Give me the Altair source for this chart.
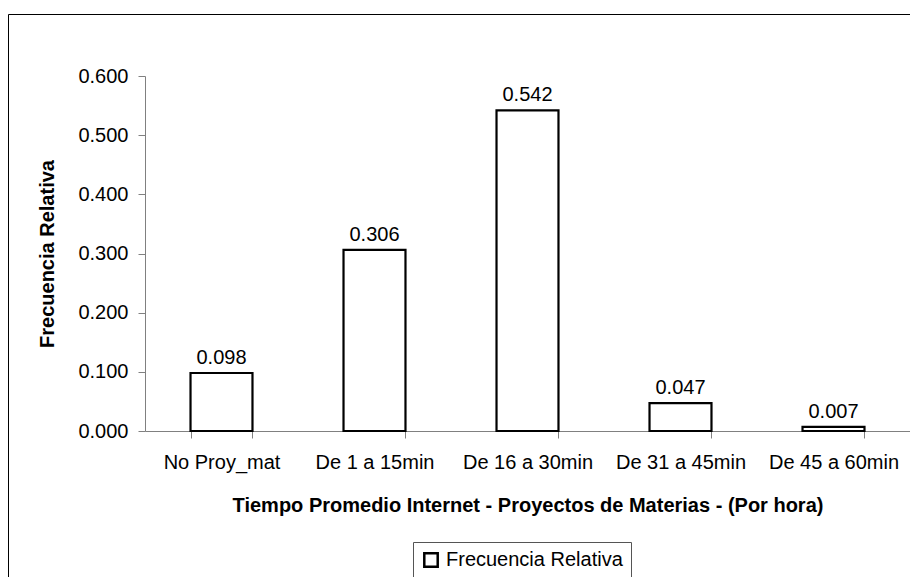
import altair as alt
import pandas as pd

categorias = ["No Proy_mat", "De 1 a 15min", "De 16 a 30min", "De 31 a 45min", "De 45 a 60min"]
frecuencia = [0.098, 0.306, 0.542, 0.047, 0.007]
serie = "Frecuencia Relativa"
y_ticks = [0.0, 0.1, 0.2, 0.3, 0.4, 0.5, 0.6]
x_title = "Tiempo Promedio Internet - Proyectos de Materias - (Por hora)"
y_title = "Frecuencia Relativa"

df = pd.DataFrame({"cat": categorias, "val": frecuencia, "serie": [serie] * len(categorias)})

FONT = "Liberation Sans"
AXIS_GREY = "#808080"

x_enc = alt.X(
    "cat:N",
    sort=categorias,
    scale=alt.Scale(paddingInner=0.595, paddingOuter=0.2975),
    axis=alt.Axis(
        title=x_title,
        labelAngle=0,
        tickBand="extent",
        tickSize=7,
        labelPadding=14,
        titlePadding=23,
    ),
)
y_enc = alt.Y(
    "val:Q",
    scale=alt.Scale(domain=[0, 0.6], nice=False),
    axis=alt.Axis(
        title=y_title,
        values=y_ticks,
        format=".3f",
        grid=False,
        tickSize=7,
        labelPadding=10,
        titlePadding=20,
    ),
)

bars = alt.Chart(df).mark_bar(stroke="black", strokeWidth=2.2).encode(
    x=x_enc,
    y=y_enc,
    color=alt.Color(
        "serie:N",
        scale=alt.Scale(range=["white"]),
        legend=alt.Legend(
            title=None,
            orient="none",
            legendX=268,
            legendY=466,
            symbolType="square",
            symbolSize=180,
            symbolStrokeColor="black",
            symbolStrokeWidth=2.5,
            symbolFillColor="white",
            labelFontSize=20,
            labelFont=FONT,
            labelColor="black",
            labelLimit=400,
            labelOffset=5,
            strokeColor="#555555",
            padding=8,
            cornerRadius=0,
        ),
    ),
)

labels = alt.Chart(df).mark_text(
    dy=-9, baseline="alphabetic", fontSize=20, font=FONT, color="black"
).encode(
    x=alt.X("cat:N", sort=categorias),
    y="val:Q",
    text=alt.Text("val:Q", format=".3f"),
)

frame = alt.Chart(pd.DataFrame({"k": [0]})).mark_rect(
    filled=False, stroke="black", strokeWidth=1
).encode(
    x=alt.value(-136.5),
    x2=alt.value(900),
    y=alt.value(-61.5),
    y2=alt.value(700),
)

chart = (
    alt.layer(frame, bars, labels)
    .properties(
        width=765,
        height=355,
        autosize=alt.AutoSizeParams(type="none"),
        padding={"left": 137, "top": 68, "right": 0, "bottom": 146},
    )
    .configure_view(stroke=None)
    .configure_axis(
        labelFont=FONT,
        titleFont=FONT,
        labelFontSize=20,
        titleFontSize=20,
        labelColor="black",
        titleColor="black",
        titleFontWeight="bold",
        domainColor=AXIS_GREY,
        tickColor=AXIS_GREY,
    )
)

chart.save("out.html", embed_options={"renderer": "svg", "actions": False})
